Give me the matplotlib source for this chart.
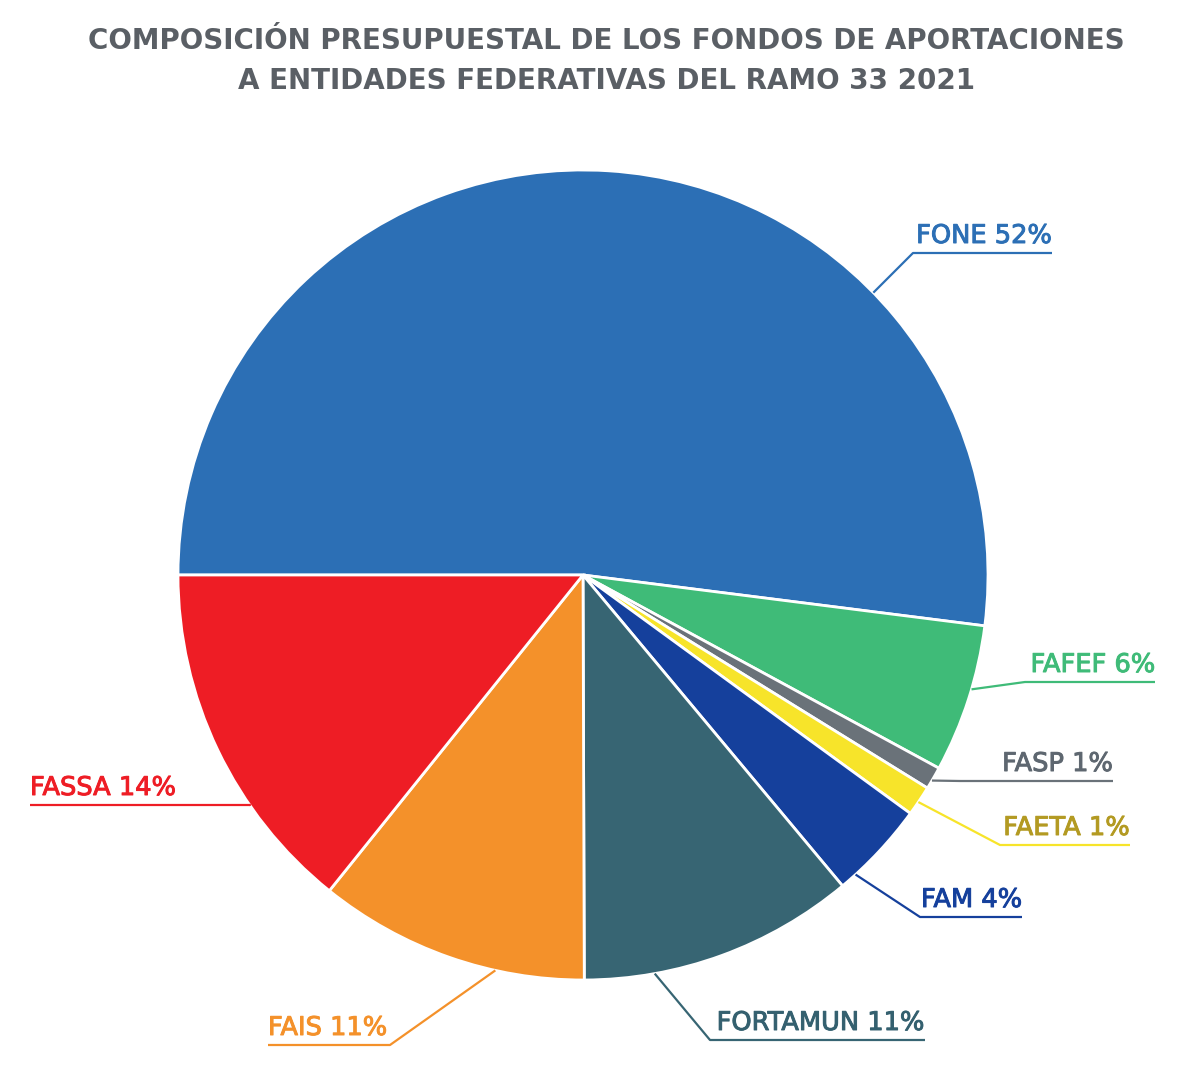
import numpy as np
import matplotlib.pyplot as plt
import matplotlib.patheffects as pe

# ---------------- data ----------------
labels = ["FONE", "FAFEF", "FASP", "FAETA", "FAM", "FORTAMUN", "FAIS", "FASSA"]
shares = [51.9, 5.9, 0.9, 1.2, 3.9, 11.0, 10.8, 14.2]
colors = ["#2C6FB5", "#3FBB78", "#6A7279", "#F7E42A", "#15409C", "#376573", "#F4912A", "#EE1D25"]
text_colors = ["#2C6FB5", "#3FBB78", "#5E6770", "#B39A22", "#15409C", "#34606F", "#F4912A", "#EE1D25"]

title = "COMPOSICIÓN PRESUPUESTAL DE LOS FONDOS DE APORTACIONES\nA ENTIDADES FEDERATIVAS DEL RAMO 33 2021"

# ---------------- layout (pixels, y from top) ----------------
W, H = 1200, 1069
CX, CY, R = 583, 575, 405
# angle on the rim where each leader starts (deg, ccw from east)
anchor_ang = [44.2, -16.4, -30.5, -34.1, -47.7, -79.8, -102.5, -145.4]
# elbow point of each leader and the end of its underline
elbow = [(913, 253), (1025, 682), (960, 781), (1000, 845), (920, 917), (710, 1040), (390, 1045), (250, 805)]
line_end = [1052, 1155, 1113, 1130, 1022, 925, 268, 30]


def fy(y):
    return H - y


fig = plt.figure(figsize=(W / 100, H / 100), dpi=100)
ax = fig.add_axes([0, 0, 1, 1])

total = sum(shares)
ax.pie(shares, colors=colors, startangle=180, counterclock=False,
       center=(CX, fy(CY)), radius=R,
       wedgeprops=dict(edgecolor="white", linewidth=2))
ax.set_xlim(0, W)
ax.set_ylim(0, H)
ax.set_aspect("equal")
ax.axis("off")

for i, lab in enumerate(labels):
    a = np.deg2rad(anchor_ang[i])
    x0 = CX + R * np.cos(a)
    y0 = CY - R * np.sin(a)
    ex, ey = elbow[i]
    xe = line_end[i]
    ax.plot([x0, ex, xe], [fy(y0), fy(ey), fy(ey)], color=colors[i], lw=1.6,
            solid_capstyle="butt")
    txt = f"{lab} {round(shares[i] / total * 100)}%"
    ha = "right" if xe > ex else "left"
    t = ax.text(xe, fy(ey - 10), txt, ha=ha, va="baseline", fontsize=18.5,
                family="DejaVu Sans", color=text_colors[i])
    # a little heavier than the regular weight
    t.set_path_effects([pe.withStroke(linewidth=0.7, foreground=text_colors[i])])

ax.text(606, fy(61), title, ha="center", va="center", fontsize=20,
        family="DejaVu Sans", fontweight="bold", color="#5A5F65",
        linespacing=1.55)

fig.savefig("out.png", dpi=100, facecolor="white")
